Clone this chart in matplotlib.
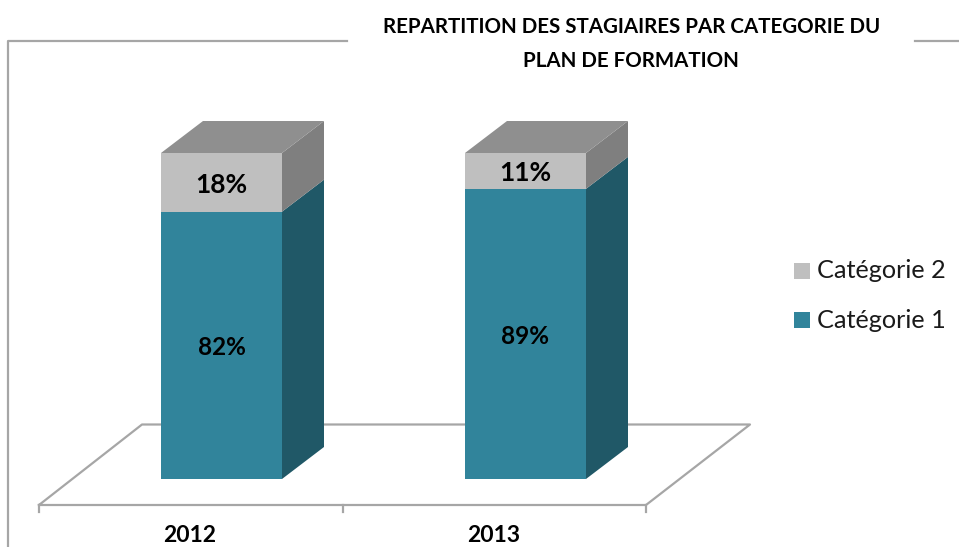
import matplotlib
matplotlib.use('Agg')
import matplotlib.pyplot as plt
from matplotlib.patches import Polygon, Rectangle
from matplotlib.lines import Line2D
from matplotlib.transforms import Affine2D

plt.rcParams['font.family'] = ['Lato', 'DejaVu Sans']

years = ['2012', '2013']
cat1 = [82, 89]
cat2 = [18, 11]
legend_names = ['Catégorie 2', 'Catégorie 1']
title_lines = ['REPARTITION DES STAGIAIRES PAR CATEGORIE DU', 'PLAN DE FORMATION']

W, H = 959, 547
fig = plt.figure(figsize=(W/100, H/100), dpi=100)
ax = fig.add_axes([0, 0, 1, 1])

# scale: 304 px between categories, 326 px for 100 %
xstep, ycale = 304.0, 3.26
x0, y0 = 221.5, 479.0
ax.set_xlim(-x0/xstep, (W-x0)/xstep)
ax.set_ylim((y0-H)/ycale, y0/ycale)
ax.axis('off')

# pixel coords, y going down, for the frame and the floor
pix = Affine2D().scale(1, -1).translate(0, H)
grey = '#a6a6a6'

def pline(xs, ys, color=grey, lw=1.6):
    ax.add_line(Line2D(xs, ys, color=color, lw=lw, transform=pix, clip_on=False, zorder=1))

pline([8, 8, 347], [547, 41, 41])
pline([915, 959], [41, 41])
pline([39, 142, 750, 646, 39], [505, 424.5, 424.5, 505, 505])
for tx in [39, 343, 646]:
    pline([tx, tx], [505, 512])

bw = 121/xstep
dx, dy = 42/xstep, 32/ycale
nudge = 2.5/ycale  # labels sit a little under the middle

def bar3d(i, bottom, val, front, side, top=None):
    l = i - bw/2
    r = i + bw/2
    t = bottom + val
    ax.add_patch(Polygon([(r, bottom), (r+dx, bottom+dy), (r+dx, t+dy), (r, t)], fc=side, ec='none', zorder=3))
    ax.add_patch(Rectangle((l, bottom), bw, val, fc=front, ec='none', zorder=4))
    if top:
        ax.add_patch(Polygon([(l, t), (l+dx, t+dy), (r+dx, t+dy), (r, t)], fc=top, ec='none', zorder=3))

for i in range(len(years)):
    bar3d(i, 0, cat1[i], '#31849b', '#205867')
    bar3d(i, cat1[i], cat2[i], '#bfbfbf', '#7f7f7f', '#8f8f8f')
    ax.text(i, cat1[i]/2-nudge, f'{cat1[i]}%', ha='center', va='center', fontsize=17.5, fontweight='bold', color='black', zorder=5)
    ax.text(i, cat1[i]+cat2[i]/2-nudge, f'{cat2[i]}%', ha='center', va='center', fontsize=19, fontweight='bold', color='black', zorder=5)

ax.text(190, 536, years[0], transform=pix, ha='center', va='center', fontsize=16.5, fontweight='bold')
ax.text(494, 536, years[1], transform=pix, ha='center', va='center', fontsize=16.5, fontweight='bold')

ax.text(632, 27, title_lines[0], transform=pix, ha='center', va='center', fontsize=14.8, fontweight='bold')
ax.text(631, 61, title_lines[1], transform=pix, ha='center', va='center', fontsize=14.8, fontweight='bold')

# legend
for name, col, ly in zip(legend_names, ['#bfbfbf', '#31849b'], [271, 320]):
    ax.add_patch(Rectangle((794, ly-8), 16, 16, fc=col, ec='none', transform=pix))
    ax.text(817, ly, name, transform=pix, ha='left', va='center', fontsize=18.2, color='#1a1a1a')

fig.savefig('out.png', dpi=100)
